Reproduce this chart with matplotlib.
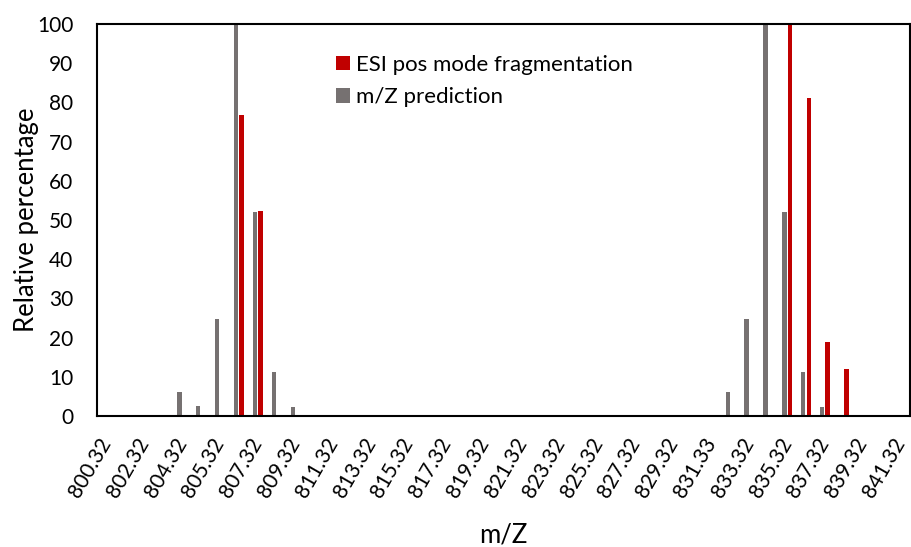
import matplotlib
matplotlib.use('Agg')
import matplotlib.pyplot as plt
import numpy as np

plt.rcParams['font.family'] = ['Lato', 'DejaVu Sans']

# category labels (m/Z), 43 bins
categories = ['800.32', '801.32', '802.32', '803.32', '804.32', '804.82',
              '805.32', '806.32', '807.32', '808.32', '809.32', '810.32',
              '811.32', '812.32', '813.32', '814.32', '815.32', '816.32',
              '817.32', '818.32', '819.32', '820.32', '821.32', '822.32',
              '823.32', '824.32', '825.32', '826.32', '827.32', '828.32',
              '829.32', '830.32', '831.33', '832.32', '833.32', '834.32',
              '835.32', '836.32', '837.32', '838.32', '839.32', '840.32',
              '841.32']

# ESI pos mode fragmentation (red)
esi_values = [0, 0, 0, 0, 0, 0, 0, 76.7, 52.4, 0, 0, 0,
              0, 0, 0, 0, 0, 0, 0, 0, 0, 0, 0, 0,
              0, 0, 0, 0, 0, 0, 0, 0, 0, 0, 0, 0,
              100, 81.0, 19.0, 11.9, 0, 0, 0]

# m/Z prediction (gray)
pred_values = [0, 0, 0, 0, 6.2, 2.6, 24.7, 100, 52.0, 11.3, 2.2, 0,
               0, 0, 0, 0, 0, 0, 0, 0, 0, 0, 0, 0,
               0, 0, 0, 0, 0, 0, 0, 0, 0, 6.2, 24.7, 100,
               52.0, 11.3, 2.2, 0, 0, 0, 0]

red = '#C00000'
gray = '#767171'

fig = plt.figure(figsize=(9.12, 5.47), dpi=100)
ax = fig.add_axes([97/912, 1-416/547, (910-97)/912, (416-24)/547])

x = np.arange(len(categories))
w = 0.23
ax.bar(x + 0.143, esi_values, width=w, color=red, label='ESI pos mode fragmentation')
ax.bar(x - 0.143, pred_values, width=w, color=gray, label='m/Z prediction')

ax.set_xlim(-0.5, len(categories) - 0.5)
ax.set_ylim(0, 100)
ax.set_yticks(range(0, 101, 10))
ax.set_xticks(x[::2])
ax.set_xticklabels(categories[::2], rotation=60, ha='right', va='center',
                   rotation_mode='anchor')
ax.tick_params(axis='both', length=0, labelsize=15)
ax.tick_params(axis='y', pad=17)
ax.tick_params(axis='x', pad=17)

for s in ax.spines.values():
    s.set_linewidth(1.5)
    s.set_color('black')

ax.set_xlabel('m/Z', fontsize=18.5, va='center')
ax.xaxis.set_label_coords(0.5, -(535-416)/392)
ax.set_ylabel('Relative percentage', fontsize=18.5, va='center')
ax.yaxis.set_label_coords(-(97-27)/813, 0.5)

# legend order: red first, gray second
ax.legend(loc='upper left', bbox_to_anchor=(336/912, 1-55/547),
          bbox_transform=fig.transFigure, frameon=False, fontsize=16,
          borderpad=0, borderaxespad=0, handlelength=0.62, handleheight=0.62,
          handletextpad=0.3, labelspacing=0.55)

fig.savefig('out.png', dpi=100)
